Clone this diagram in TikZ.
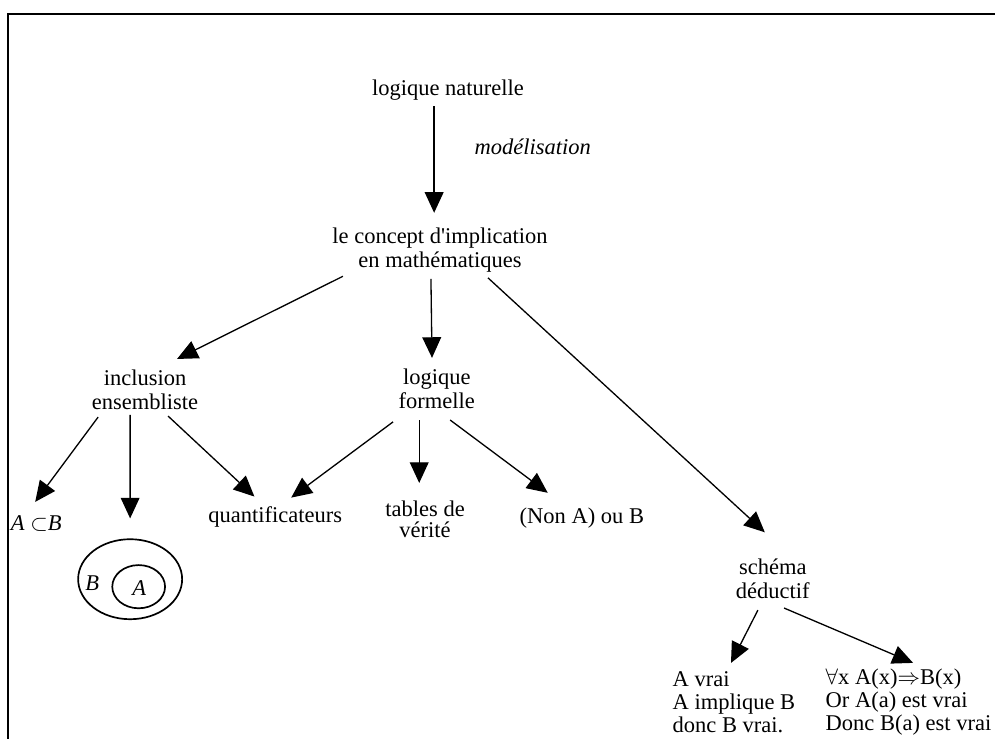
\documentclass[tikz,border=0pt]{standalone}
\usepackage{fontspec}
\setmainfont{Liberation Serif}
\usetikzlibrary{arrows.meta,shapes.geometric}

\tikzset{
  txt/.style={font=\fontsize{12}{12.5}\selectfont, align=center, inner sep=0pt},
  lines/.style={font=\fontsize{12}{11.2}\selectfont, align=left, anchor=west, inner sep=0pt},
  venn/.style={draw, ellipse, inner sep=0pt, line width=0.9pt},
}

\begin{document}
\begin{tikzpicture}[>={Triangle[length=11pt,width=10pt]}, line width=0.7pt]
                    \useasboundingbox (0,0) rectangle (18.656,-13.838);
                    % draw the frame
                    \draw[line width=1.1pt] (18.7,-0.26) -- (0.15,-0.26) -- (0.15,-13.9);

                    % the concepts
                    \node[txt] (nat) at (8.40,-1.69) {logique naturelle};
                    \node[txt] (model) at (9.99,-2.76) {\textit{modélisation}};
                    \node[txt] (concept) at (8.25,-4.69) {le concept d\textquotesingle implication\\en mathématiques};
                    \node[txt] (incl) at (2.72,-7.31) {inclusion\\ensembliste};
                    \node[txt] (formelle) at (8.19,-7.29) {logique\\formelle};
                    \node[txt] (schema) at (14.49,-10.85) {schéma\\déductif};

                    % the leaves
                    \node[txt] (subset) at (0.68,-9.81) {\textit{A} $\subset$\textit{B}};
                    \node[txt] (quant) at (5.16,-9.69) {quantificateurs};
                    \node[txt,font=\fontsize{12}{11.3}\selectfont] (tables) at (7.97,-9.74) {tables de\\vérité};
                    \node[txt] (nonab) at (10.91,-9.71) {(Non A) ou B};
                    \node[lines] (vrai) at (12.60,-13.17) {A vrai\\[1pt]A implique B\\[1pt]donc B vrai.};
                    \node[lines] (forall) at (15.47,-13.17) {$\forall$x A(x)$\Rightarrow$B(x)\\[1pt]Or A(a) est vrai\\[1pt]Donc B(a) est vrai};

                    % the two sets
                    \node[venn, minimum width=1.95cm, minimum height=1.5cm] (venn) at (2.44,-10.86) {};
                    \node[venn, minimum width=0.99cm, minimum height=0.81cm] (inner) at (2.60,-11.00) {};
                    \node[txt] (setB) at (1.73,-10.93) {\textit{B}};
                    \node[txt] (setA) at (2.61,-11.03) {\textit{A}};

                    % draw the arrows
                    \draw[->] ([shift={(-0.26,-0.30)}]nat.center) -- ([shift={(-0.11,0.70)}]concept.center);
                    \draw[->] ([shift={(-1.82,-0.49)}]concept.center) -- ([shift={(0.60,0.58)}]incl.center);
                    \draw[->] ([shift={(-0.17,-0.54)}]concept.center) -- ([shift={(-0.09,0.58)}]formelle.center);
                    \draw[->] ([shift={(0.90,-0.52)}]concept.center) -- ([shift={(-0.15,0.87)}]schema.center);

                    \draw[->] ([shift={(-0.88,-0.51)}]incl.center) -- ([shift={(-0.02,0.40)}]subset.center);
                    \draw[->] ([shift={(-0.28,-0.47)}]incl.center) -- ([shift={(0,1.14)}]venn.center);
                    \draw[->] ([shift={(0.43,-0.49)}]incl.center) -- ([shift={(-0.39,0.38)}]quant.center);

                    \draw[->] ([shift={(-0.82,-0.62)}]formelle.center) -- ([shift={(0.30,0.36)}]quant.center);
                    \draw[->] ([shift={(-0.33,-0.585)}]formelle.center) -- ([shift={(-0.11,0.685)}]tables.center);
                    \draw[->] ([shift={(0.25,-0.585)}]formelle.center) -- ([shift={(-0.64,0.47)}]nonab.center);

                    \draw[->] ([shift={(-0.28,-0.59)}]schema.center) -- ([shift={(1.106,0.741)}]vrai.west);
                    \draw[->] ([shift={(0.21,-0.55)}]schema.center) -- ([shift={(1.65,0.741)}]forall.west);
                \end{tikzpicture}
\end{document}
